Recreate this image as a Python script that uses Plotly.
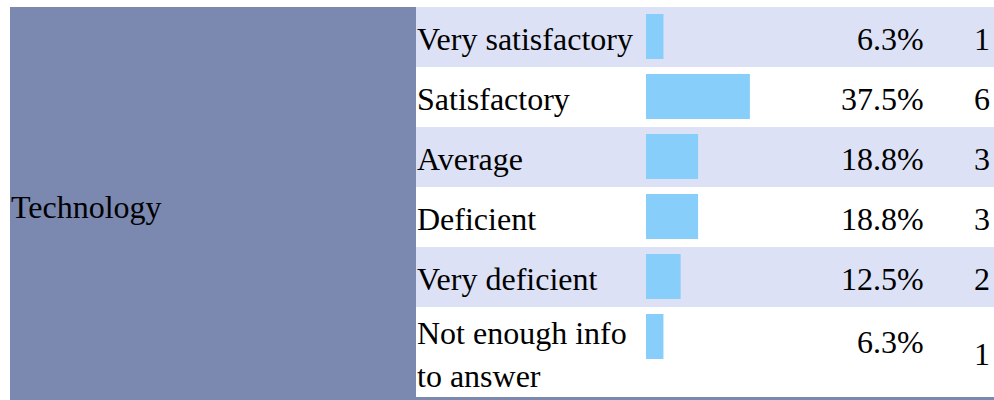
import plotly.graph_objects as go

# ---- data ----
group_label = "Technology"
categories = ["Very satisfactory", "Satisfactory", "Average", "Deficient",
              "Very deficient", "Not enough info<br>to answer"]
percentages = [6.3, 37.5, 18.8, 18.8, 12.5, 6.3]
counts = [1, 6, 3, 3, 2, 1]

# ---- style / layout constants (window pixel coordinates) ----
W, H = 994, 400
TABLE_X0, TABLE_Y0 = 10, 7
RIGHT_X0 = 416
BAR_X0 = 646
PX_PER_PCT = 2.77
PCT_RIGHT = 926
COUNT_RIGHT = 992
LABEL_X = 415
GROUP_X = 9
TEXT_DY = 2          # small baseline correction for the serif font
GROUP_DY = 5
ROW_H = 60
LINE_H = 43
BAR_PAD, BAR_H = 7, 45
DARK = "#7B88B0"
LIGHT = "#DCE1F5"
BAR_COLOR = "#87CEFA"
FONT = dict(family="Liberation Serif, Times New Roman, serif", size=32, color="#000000")

# row geometry derived from number of text lines
lines = [c.split("<br>") for c in categories]
row_heights = [ROW_H + (len(l) - 1) * (ROW_H // 2) for l in lines]
row_tops = []
t = TABLE_Y0
for h in row_heights:
    row_tops.append(t)
    t += h
table_bottom = t

fig = go.Figure()

bar_centers = [top + BAR_PAD + BAR_H / 2 for top in row_tops]
fig.add_trace(go.Bar(
    x=percentages, y=bar_centers, orientation="h", width=BAR_H,
    marker=dict(color=BAR_COLOR, line=dict(width=0)),
    xaxis="x2", yaxis="y", hoverinfo="skip", showlegend=False,
))

shapes = [dict(type="rect", xref="x", yref="y", x0=TABLE_X0, x1=W, y0=TABLE_Y0, y1=H,
               fillcolor=DARK, line=dict(width=0), layer="below")]
annotations = []
for i, (top, h) in enumerate(zip(row_tops, row_heights)):
    shapes.append(dict(type="rect", xref="x", yref="y", x0=RIGHT_X0, x1=W, y0=top, y1=top + h,
                       fillcolor=LIGHT if i % 2 == 0 else "#FFFFFF", line=dict(width=0), layer="below"))
    center = top + h / 2 + TEXT_DY
    n = len(lines[i])
    for j, ln in enumerate(lines[i]):
        y = center + (j - (n - 1) / 2) * LINE_H
        annotations.append(dict(x=LABEL_X, y=y, xref="x", yref="y", text=ln, showarrow=False,
                                xanchor="left", yanchor="middle", font=FONT))
    pct_y = top + min(h, 66) / 2 + TEXT_DY
    annotations.append(dict(x=PCT_RIGHT, y=pct_y, xref="x", yref="y", text=f"{percentages[i]:.1f}%",
                            showarrow=False, xanchor="right", yanchor="middle", font=FONT))
    annotations.append(dict(x=COUNT_RIGHT, y=center, xref="x", yref="y", text=str(counts[i]),
                            showarrow=False, xanchor="right", yanchor="middle", font=FONT))

annotations.append(dict(x=GROUP_X, y=(TABLE_Y0 + table_bottom) / 2 + GROUP_DY, xref="x", yref="y",
                        text=group_label, showarrow=False, xanchor="left", yanchor="middle", font=FONT))

fig.update_layout(
    width=W, height=H, margin=dict(l=0, r=0, t=0, b=0, pad=0),
    paper_bgcolor="#FFFFFF", plot_bgcolor="rgba(0,0,0,0)",
    xaxis=dict(domain=[0, 1], range=[0, W], visible=False, fixedrange=True),
    yaxis=dict(domain=[0, 1], range=[H, 0], visible=False, fixedrange=True),
    xaxis2=dict(domain=[BAR_X0 / W, (BAR_X0 + 100 * PX_PER_PCT) / W], range=[0, 100],
                anchor="y", visible=False, fixedrange=True),
    shapes=shapes, annotations=annotations, showlegend=False,
)

fig.write_html(
    "out.html",
    config={"displayModeBar": False},
    post_script="document.body.style.margin='0';document.body.style.overflow='hidden';",
)
